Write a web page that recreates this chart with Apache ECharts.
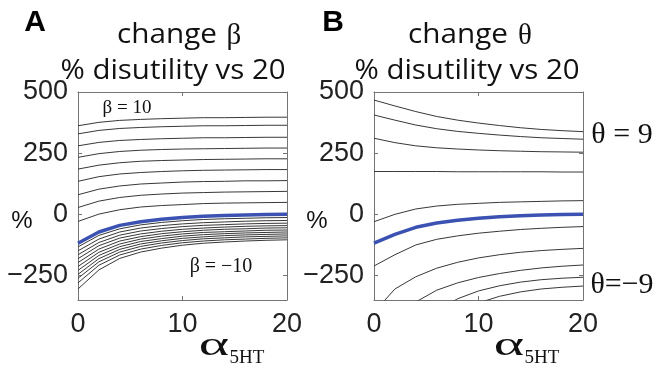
<!DOCTYPE html>
<html>
<head>
<meta charset="utf-8">
<script src="https://cdn.jsdelivr.net/npm/echarts@6/dist/echarts.min.js"></script>
<style>
  html, body { margin: 0; padding: 0; background: #fff; }
  #chart { width: 658px; height: 370px; }
</style>
</head>
<body>
<div id="chart"></div>
<script>
// alpha_5HT sample points shared by every curve
const alphaValues = [0, 2, 4, 6, 8, 10, 12, 14, 16, 18, 20];
const xTicks = [0, 10, 20];
const yTicks = [-250, 0, 250, 500];

// panel A: change beta, from beta = 10 (top) to beta = -10 (bottom)
const betaCurves = [
  [362, 376, 384, 388, 391, 393, 395, 395, 396, 397, 397],
  [329, 343, 351, 355, 358, 360, 362, 362, 363, 364, 364],
  [280, 294, 302, 306, 309, 311, 313, 313, 314, 315, 315],
  [233, 248, 257, 262, 265, 267, 268, 269, 270, 271, 271],
  [185, 201, 211, 217, 220, 222, 224, 225, 226, 227, 227],
  [135, 154, 165, 171, 175, 178, 180, 181, 182, 183, 183],
  [80, 103, 116, 124, 128, 132, 134, 135, 137, 137, 138],
  [28, 54, 69, 78, 83, 87, 89, 91, 92, 93, 94],
  [-29, 1, 19, 30, 36, 40, 44, 46, 47, 48, 49],
  [-133, -86, -59, -43, -33, -26, -21, -18, -16, -14, -13],
  [-149, -101, -72, -56, -46, -39, -34, -31, -28, -26, -25],
  [-165, -115, -85, -68, -58, -50, -45, -42, -39, -37, -36],
  [-181, -128, -97, -80, -69, -61, -56, -52, -49, -47, -46],
  [-197, -142, -109, -91, -79, -71, -65, -61, -59, -56, -55],
  [-213, -155, -121, -101, -89, -80, -74, -71, -68, -65, -64],
  [-229, -168, -132, -111, -99, -89, -83, -79, -76, -74, -72],
  [-245, -181, -143, -121, -108, -98, -92, -87, -84, -82, -80],
  [-261, -194, -154, -131, -117, -107, -100, -96, -92, -90, -88],
  [-280, -208, -166, -142, -127, -116, -109, -104, -101, -98, -96],
  [-305, -227, -180, -154, -138, -126, -118, -113, -109, -106, -104],
];
const betaBaseline = [-118, -72, -45, -30, -20, -13, -8, -5, -3, -1, 0];

// panel B: change theta, from theta = 9 (top) to theta = -9 (bottom)
const thetaCurves = [
  [467, 443, 420, 400, 385, 373, 363, 354, 347, 342, 338],
  [406, 385, 365, 350, 339, 331, 324, 318, 313, 310, 307],
  [311, 293, 280, 272, 267, 263, 260, 258, 256, 255, 254],
  [175, 175, 175, 175, 174, 174, 174, 174, 174, 173, 173],
  [-30, 0, 22, 34, 41, 45, 49, 51, 53, 55, 56],
  [-211, -165, -125, -102, -88, -77, -69, -62, -57, -53, -50],
  [-400, -305, -255, -220, -196, -178, -165, -155, -148, -143, -139],
  [-560, -440, -358, -310, -280, -258, -242, -229, -219, -212, -207],
  [-700, -560, -460, -395, -345, -313, -292, -277, -267, -261, -257],
  [-800, -650, -540, -460, -400, -362, -335, -317, -305, -298, -293],
];
const thetaBaseline = [-118, -82, -53, -35, -24, -16, -10, -6, -3, -1, 0];

const boxColor = '#747474';
const curveColor = '#383838';
const baseColor = '#3c52b2';
const sans = 'Liberation Sans';
const serif = 'Liberation Serif';
const titleFont = 'Open Sans';

function toPoints(values) {
  return values.map((v, i) => [alphaValues[i], v]);
}

function panelAxes(gridIndex) {
  const line = { show: true, onZero: false, lineStyle: { color: boxColor, width: 1 } };
  const tick = { show: true, inside: true, length: 4, lineStyle: { color: boxColor } };
  const x = {
    gridIndex, type: 'value', min: 0, max: 20, interval: 10,
    splitLine: { show: false }, axisLine: line, axisTick: tick,
  };
  const y = {
    gridIndex, type: 'value', min: -350, max: 500,
    splitLine: { show: false }, axisLine: line,
    axisTick: Object.assign({ customValues: yTicks }, tick),
  };
  return {
    xAxis: [
      Object.assign({}, x, {
        position: 'bottom',
        axisLabel: { fontFamily: sans, fontSize: 27, color: '#222', margin: 11, customValues: xTicks },
      }),
      Object.assign({}, x, { position: 'top', axisLabel: { show: false } }),
    ],
    yAxis: [
      Object.assign({}, y, {
        position: 'left',
        axisLabel: {
          fontFamily: sans, fontSize: 27, color: '#222', margin: 10, customValues: yTicks,
          formatter: v => String(v).replace('-', '\u2212'),
        },
      }),
      Object.assign({}, y, { position: 'right', axisLabel: { show: false } }),
    ],
  };
}

const axesA = panelAxes(0);
const axesB = panelAxes(1);

function curveSeries(curves, baseline, axisIndex) {
  const out = curves.map(values => ({
    type: 'line', xAxisIndex: axisIndex, yAxisIndex: axisIndex,
    data: toPoints(values), showSymbol: false, silent: true,
    lineStyle: { color: curveColor, width: 1 }, z: 2,
  }));
  out.push({
    type: 'line', xAxisIndex: axisIndex, yAxisIndex: axisIndex,
    data: toPoints(baseline), showSymbol: false, silent: true,
    lineStyle: { color: baseColor, width: 3.5 }, z: 3,
  });
  return out;
}

function label(x, y, text, style, extra) {
  return Object.assign({
    type: 'text', x, y,
    style: Object.assign({ text, fill: '#111', align: 'center', verticalAlign: 'middle' }, style),
  }, extra);
}

const chart = echarts.init(document.getElementById('chart'), null, { renderer: 'canvas' });
chart.setOption({
  animation: false,
  backgroundColor: '#fff',
  grid: [
    { left: 78, top: 92, width: 209, height: 208 },
    { left: 374, top: 92, width: 209, height: 208 },
  ],
  xAxis: axesA.xAxis.concat(axesB.xAxis),
  yAxis: axesA.yAxis.concat(axesB.yAxis),
  series: curveSeries(betaCurves, betaBaseline, 0).concat(curveSeries(thetaCurves, thetaBaseline, 2)),
  graphic: [
    label(35, 23, 'A', { fontFamily: sans, fontWeight: 'bold', fontSize: 30, fill: '#000' }),
    label(333, 23, 'B', { fontFamily: sans, fontWeight: 'bold', fontSize: 30, fill: '#000' }),
    label(117, 35, 'change', { fontFamily: titleFont, fontSize: 27, align: 'left' }, { scaleX: 1.1 }),
    label(234, 36, 'β', { fontFamily: serif, fontSize: 29 }),
    label(408, 35, 'change', { fontFamily: titleFont, fontSize: 27, align: 'left' }, { scaleX: 1.1 }),
    label(525, 36, 'θ', { fontFamily: serif, fontSize: 29 }),
    label(173, 71, '% disutility vs 20', { fontFamily: titleFont, fontSize: 27 }, { scaleX: 1.09 }),
    label(467, 71, '% disutility vs 20', { fontFamily: titleFont, fontSize: 27 }, { scaleX: 1.09 }),
    label(22, 221, '%', { fontFamily: sans, fontSize: 24 }),
    label(317, 221, '%', { fontFamily: sans, fontSize: 24 }),
    label(127, 108, 'β = 10', { fontFamily: serif, fontSize: 19 }),
    label(221, 267, 'β = \u221210', { fontFamily: serif, fontSize: 20 }),
    label(622, 135, 'θ = 9', { fontFamily: serif, fontSize: 30 }),
    label(622, 285, 'θ=\u22129', { fontFamily: serif, fontSize: 30 }),
    label(214, 346, 'α', { fontFamily: serif, fontSize: 34 }, { scaleX: 1.7 }),
    label(247, 358, '5HT', { fontFamily: serif, fontSize: 19 }),
    label(509, 346, 'α', { fontFamily: serif, fontSize: 34 }, { scaleX: 1.7 }),
    label(542, 358, '5HT', { fontFamily: serif, fontSize: 19 }),
  ],
});
</script>
</body>
</html>
